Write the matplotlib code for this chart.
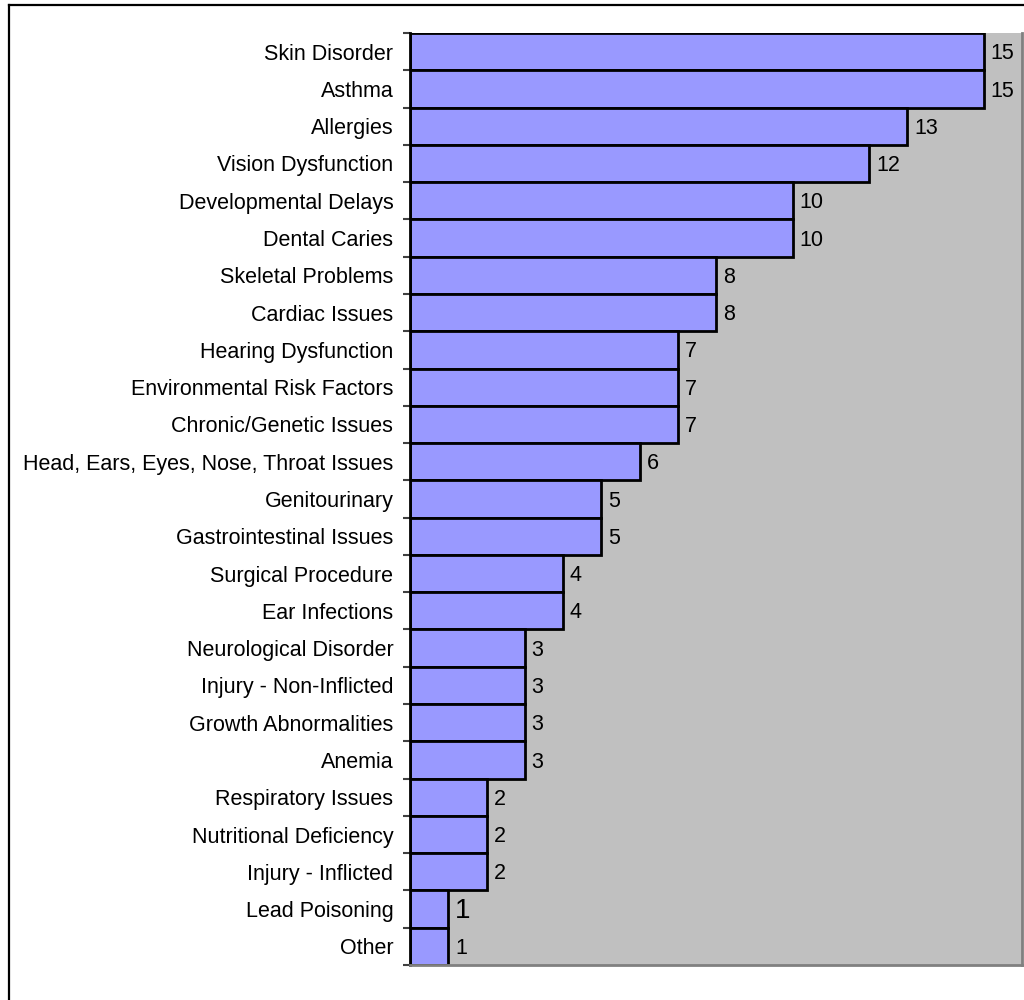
import matplotlib
matplotlib.use("Agg")
import matplotlib.pyplot as plt
from matplotlib.lines import Line2D
import numpy as np

plt.rcParams['font.family'] = ['Liberation Sans', 'DejaVu Sans']

categories = ["Skin Disorder", "Asthma", "Allergies", "Vision Dysfunction",
              "Developmental Delays", "Dental Caries", "Skeletal Problems",
              "Cardiac Issues", "Hearing Dysfunction", "Environmental Risk Factors",
              "Chronic/Genetic Issues", "Head, Ears, Eyes, Nose, Throat Issues",
              "Genitourinary", "Gastrointestinal Issues", "Surgical Procedure",
              "Ear Infections", "Neurological Disorder", "Injury - Non-Inflicted",
              "Growth Abnormalities", "Anemia", "Respiratory Issues",
              "Nutritional Deficiency", "Injury - Inflicted", "Lead Poisoning", "Other"]
counts = [15, 15, 13, 12, 10, 10, 8, 8, 7, 7, 7, 6, 5, 5, 4, 4, 3, 3, 3, 3, 2, 2, 2, 1, 1]

fig = plt.figure(figsize=(10.24, 10.0), dpi=100)
ax = fig.add_axes([410 / 1024, 1 - 965 / 1000, 612 / 1024, 932 / 1000])
ax.set_facecolor('#C0C0C0')

y = np.arange(len(categories))
ax.barh(y, counts, height=1.0, color='#9999FF', edgecolor='black', linewidth=2)
ax.set_xlim(0, 16)
ax.set_ylim(len(categories) - 0.5, -0.5)

for i, v in enumerate(counts):
    size = 20 if categories[i] == "Lead Poisoning" else 15.5
    ax.annotate(str(v), (v, i), xytext=(5, -1.5), textcoords='offset points',
                va='center', ha='left', fontsize=size)

# tick marks sit between bars, labels at bar centres
ax.set_yticks(np.arange(len(categories) + 1) - 0.5)
ax.set_yticklabels([])
ax.tick_params(axis='y', which='major', length=5, width=1.5, color='#404040')
ax.set_yticks(y, minor=True)
ax.set_yticklabels(categories, minor=True, fontsize=15.5)
ax.tick_params(axis='y', which='minor', length=0, pad=12)
ax.set_xticks([])

ax.spines['left'].set_color('black')
ax.spines['left'].set_linewidth(2)
ax.spines['top'].set_visible(False)
for s in ['right', 'bottom']:
    ax.spines[s].set_color('#808080')
    ax.spines[s].set_linewidth(2)

# chart border
fig.add_artist(Line2D([9 / 1024, 9 / 1024], [0, 1 - 5 / 1000], color='black', linewidth=1.6))
fig.add_artist(Line2D([9 / 1024, 1], [1 - 5 / 1000, 1 - 5 / 1000], color='black', linewidth=1.6))

fig.savefig('out.png', dpi=100)
